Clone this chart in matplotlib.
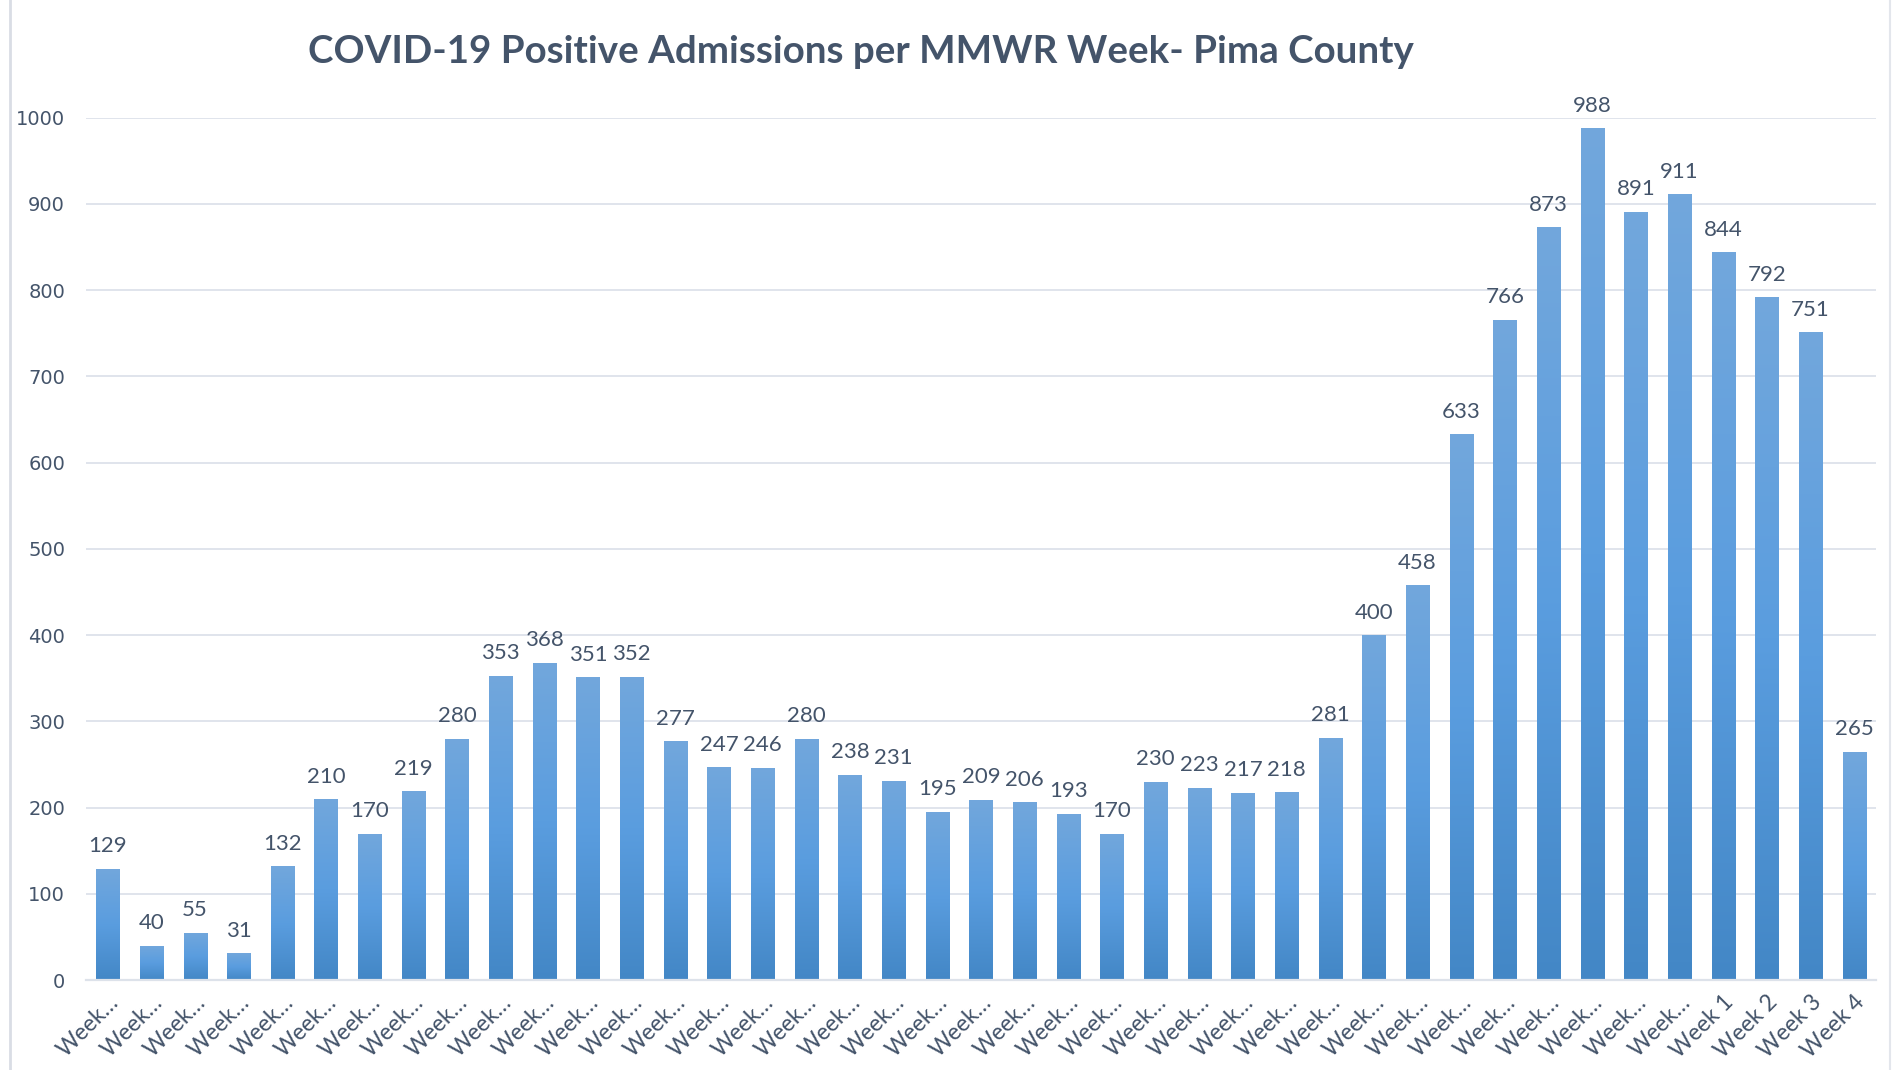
import numpy as np
import matplotlib.pyplot as plt
from matplotlib.colors import LinearSegmentedColormap
from matplotlib.lines import Line2D

# Weekly admissions
admissions = [129, 40, 55, 31, 132, 210, 170, 219, 280, 353, 368, 351, 352,
              277, 247, 246, 280, 238, 231, 195, 209, 206, 193, 170, 230, 223,
              217, 218, 281, 400, 458, 633, 766, 873, 988, 891, 911, 844, 792,
              751, 265]
week_labels = ['Week\u2026'] * 37 + ['Week 1', 'Week 2', 'Week 3', 'Week 4']
y_ticks = [0, 100, 200, 300, 400, 500, 600, 700, 800, 900, 1000]

title = 'COVID-19 Positive Admissions per MMWR Week- Pima County'
text_color = '#44546a'
grid_color = '#dde2ea'

fig = plt.figure(figsize=(18.93, 10.70), dpi=100)
ax = fig.add_axes([0.0454, 0.084, 0.9456, 0.806])

x = np.arange(len(admissions))
bars = ax.bar(x, admissions, width=0.53, color='none', zorder=2)

# vertical gradient inside every bar (Excel style)
grad = LinearSegmentedColormap.from_list('g', ['#4387c6', '#5a9ddf', '#72a7dc'])
gradient = np.linspace(0, 1, 256).reshape(-1, 1)
for b in bars:
    x0, y0 = b.get_x(), b.get_y()
    w, h = b.get_width(), b.get_height()
    im = ax.imshow(gradient, cmap=grad, origin='lower', aspect='auto',
                   extent=[x0, x0 + w, y0, y0 + h], zorder=2)
    im.set_clip_path(b)

for xi, v in zip(x, admissions):
    ax.annotate(str(v), (xi, v), xytext=(0, 9), textcoords='offset points',
                ha='center', va='bottom', fontsize=16, color=text_color,
                family='Lato')

ax.set_xlim(-0.5, len(admissions) - 0.5)
ax.set_ylim(0, 1000)
ax.set_yticks(y_ticks)
ax.set_yticklabels([str(t) for t in y_ticks], fontsize=14, color=text_color,
                   family='DejaVu Sans')
ax.set_xticks(x)
ax.set_xticklabels(week_labels, rotation=45, ha='right', rotation_mode='anchor',
                   fontsize=16.5, color=text_color, family='Lato')
ax.tick_params(axis='both', length=0)
ax.tick_params(axis='y', pad=15)
ax.tick_params(axis='x', pad=8)

ax.yaxis.grid(True, color=grid_color, linewidth=1.3, zorder=0)
ax.set_axisbelow(True)
for s in ['top', 'right', 'left']:
    ax.spines[s].set_visible(False)
ax.spines['bottom'].set_color(grid_color)
ax.spines['bottom'].set_linewidth(1.6)

fig.text(0.455, 0.951, title, ha='center', va='center', fontsize=27.7,
         fontweight='bold', color=text_color, family='Lato')

# chart area border lines
fig.add_artist(Line2D([0.0055, 0.0055], [0, 1], color='#d9dde5', linewidth=2,
                      transform=fig.transFigure))
fig.add_artist(Line2D([0.9985, 0.9985], [0, 1], color='#e3e6ec', linewidth=1.5,
                      transform=fig.transFigure))

fig.savefig('out.png', dpi=100)
